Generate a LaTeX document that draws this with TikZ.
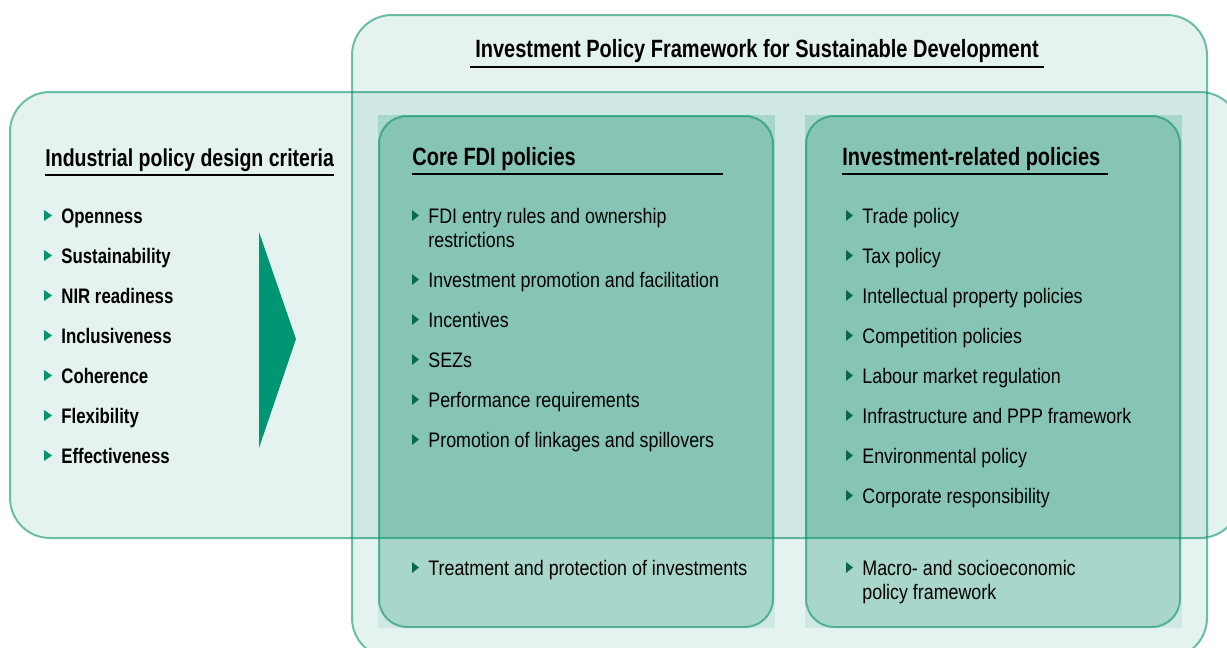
\documentclass[tikz,border=0pt]{standalone}
\usepackage{fontspec}
\setmainfont{Liberation Sans}[FakeStretch=0.85]
\newfontfamily\narrowbold{Liberation Sans}[FakeStretch=0.8]
\usetikzlibrary{positioning}
\definecolor{tealpale}{RGB}{228,243,240}
\definecolor{tealmix}{RGB}{207,232,227}
\definecolor{tealsoft}{RGB}{168,214,203}
\definecolor{tealdeep}{RGB}{134,197,181}
\definecolor{tealedge}{RGB}{0,140,100}
\definecolor{arrowteal}{RGB}{0,150,115}
\definecolor{tickdark}{RGB}{10,105,75}

\begin{document}
\begin{tikzpicture}[x=0.5pt,y=-0.5pt,
  every node/.style={inner sep=0pt,anchor=base west,
    font=\fontsize{10.5}{12}\selectfont},
  head/.style={font=\narrowbold\bfseries\fontsize{12.5}{15}\selectfont},
  crit/.style={font=\narrowbold\bfseries\fontsize{10.5}{12}\selectfont},
  pol/.style={align=left},
  rim/.style={draw=tealedge,draw opacity=0.55,line width=1pt},
  rule/.style={line width=0.75pt}]
\useasboundingbox (0,0) rectangle (1227,648);

% framework and criteria panels
\fill[tealpale,rounded corners=20pt] (352,15) rectangle (1207,658);
\fill[tealpale,rounded corners=20pt] (10,92) rectangle (1240,538);
\foreach \xa/\xb in {378/775,805/1182}{
  \fill[tealmix] (\xa,115) rectangle (\xb,628);
  \fill[tealsoft,rounded corners=14pt] (\xa+1,116) rectangle (\xb-2,627);
}
% overlap is one shade darker
\begin{scope}
  \clip[rounded corners=20pt] (10,92) rectangle (1240,538);
  \fill[tealmix,rounded corners=20pt] (352,15) rectangle (1207,658);
  \foreach \xa/\xb in {378/775,805/1182}{
    \fill[tealsoft] (\xa,115) rectangle (\xb,628);
    \fill[tealdeep,rounded corners=14pt] (\xa+1,116) rectangle (\xb-2,627);
  }
\end{scope}
\draw[rim,rounded corners=20pt] (352,15) rectangle (1207,658);
\draw[rim,rounded corners=20pt] (10,92) rectangle (1240,538);
\foreach \xa/\xb in {378/775,805/1182}
  \draw[rim,rounded corners=14pt] (\xa+1,116) rectangle (\xb-2,627);

% big arrow
\fill[arrowteal] (259,232) -- (296,339) -- (259,448) -- cycle;

% headings
\node[head,anchor=base] (title) at (757,57)
  {Investment Policy Framework for Sustainable Development};
\draw[rule] ([xshift=-2.5pt,yshift=-5pt]title.base west)
  -- ([xshift=2.5pt,yshift=-5pt]title.base east);
\node[head,font=\narrowbold\bfseries\fontsize{12.2}{15}\selectfont] (crithead) at (45,166)
  {Industrial policy design criteria};
\draw[rule] ([yshift=-4.5pt]crithead.base west) -- ([yshift=-4.5pt]crithead.base east);
\node[head] (corehead) at (412,165) {Core FDI policies};
\draw[rule] ([yshift=-4.5pt]corehead.base west) -- ++(311,0);
\node[head] (invhead) at (842,165) {Investment-related policies};
\draw[rule] ([yshift=-4.5pt]invhead.base west) -- ++(266,0);

% criteria list
\foreach \txt [count=\i] in {Openness,Sustainability,NIR readiness,
    Inclusiveness,Coherence,Flexibility,Effectiveness}{
  \node[crit] (crit\i) at (61,183+40*\i) {\txt};
  \fill[arrowteal] (crit\i.base west) ++(-17,-2) -- ++(0,-11) -- ++(8,5.5) -- cycle;
}

% core FDI policies (\dy = drop of the last line)
\foreach \y/\dy/\txt [count=\i] in {223/24/{FDI entry rules and ownership\\restrictions},
    287/0/{Investment promotion and facilitation},327/0/Incentives,367/0/SEZs,
    407/0/{Performance requirements},447/0/{Promotion of linkages and spillovers},
    575/0/{Treatment and protection of investments}}{
  \node[pol] (core\i) at (428,\y+\dy) {\txt};
  \fill[tickdark] (core\i.base west) ++(-16,-2-\dy) -- ++(0,-11) -- ++(7,5.5) -- cycle;
}

% investment-related policies
\foreach \y/\dy/\txt [count=\i] in {223/0/{Trade policy},263/0/{Tax policy},
    303/0/{Intellectual property policies},343/0/{Competition policies},
    383/0/{Labour market regulation},423/0/{Infrastructure and PPP framework},
    463/0/{Environmental policy},503/0/{Corporate responsibility},
    575/24/{Macro- and socioeconomic\\policy framework}}{
  \node[pol] (inv\i) at (862,\y+\dy) {\txt};
  \fill[tickdark] (inv\i.base west) ++(-16,-2-\dy) -- ++(0,-11) -- ++(7,5.5) -- cycle;
}
\end{tikzpicture}
\end{document}
